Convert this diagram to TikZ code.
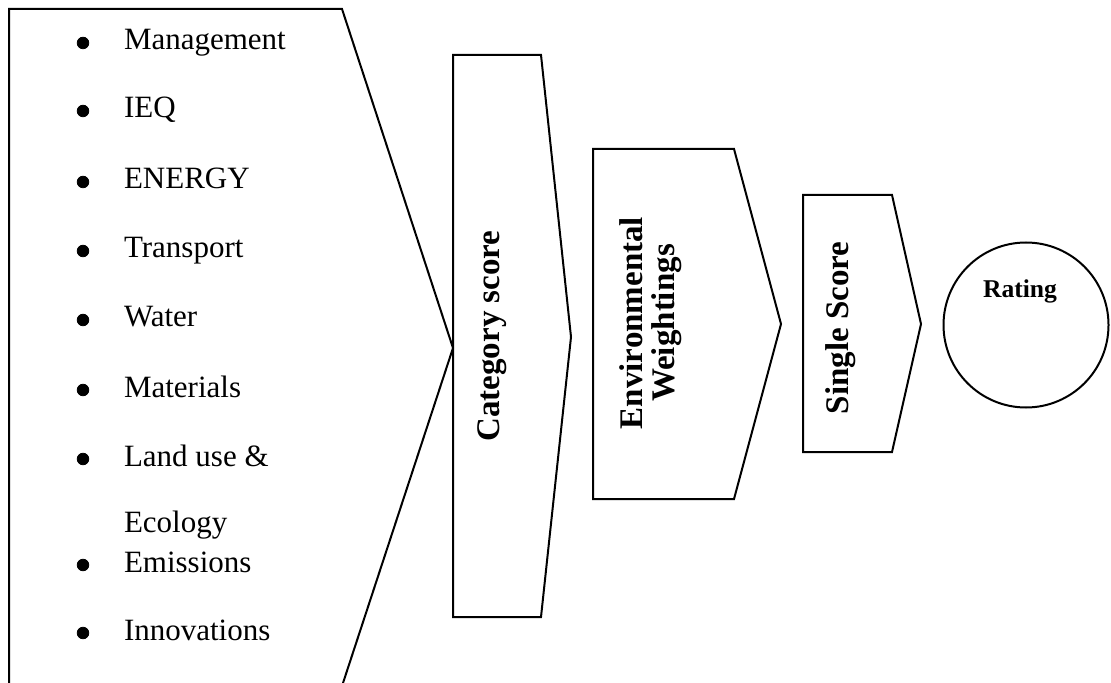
\documentclass[tikz,border=0pt]{standalone}
\usepackage{fontspec}
\setmainfont{Liberation Serif}
\begin{document}
\begin{tikzpicture}[x=0.5pt,y=-0.5pt,line width=1pt,
		item/.style={anchor=base west,inner sep=0pt,font=\fontsize{15.5}{18}\selectfont},
		dot/.style={circle,fill,draw,line width=0.4pt,inner sep=0pt,minimum size=5.8pt},
		stage/.style={rotate=90,align=center,inner sep=0pt,font=\fontsize{16.5}{16}\selectfont\bfseries}]
		\useasboundingbox (0,0) rectangle (1111,683);
		% criteria box
		\draw (9,683) -- (9,9) -- (342,9) -- (453,348) -- (343,683);
		\node[dot] (b1) at (83,43) {};
		\node[item] (mgmt) at (123,50) {Management};
		\node[dot] (b2) at (83,111) {};
		\node[item] (ieq) at (123,118) {IEQ};
		\node[dot] (b3) at (83,182) {};
		\node[item] (energy) at (123,189) {ENERGY};
		\node[dot] (b4) at (83,251) {};
		\node[item] (transport) at (123,258) {Transport};
		\node[dot] (b5) at (83,320) {};
		\node[item] (water) at (123,327) {Water};
		\node[dot] (b6) at (83,390) {};
		\node[item] (materials) at (123,397) {Materials};
		\node[dot] (b7) at (83,459) {};
		\node[item] (landuse) at (123,466) {Land use \&};
		\node[item] (ecology) at (123,532) {Ecology};
		\node[dot] (b8) at (83,565) {};
		\node[item] (emissions) at (123,572) {Emissions};
		\node[dot] (b9) at (83,633) {};
		\node[item] (innov) at (123,640) {Innovations};
		% stages
		\draw (453,55) -- (541,55) -- (571,337) -- (541,617) -- (453,617) -- cycle;
		\node[stage] (catscore) at (492,336) {Category score};
		\draw (593,149) -- (734,149) -- (781,324) -- (734,499) -- (593,499) -- cycle;
		\node[stage] (envweight) at (651,323) {Environmental\\Weightings};
		\draw (803,195) -- (892,195) -- (921,324) -- (892,452) -- (803,452) -- cycle;
		\node[stage] (single) at (841,328) {Single Score};
		% result
		\draw (1026,325) circle (41.25pt);
		\node[inner sep=0pt,font=\fontsize{12.8}{14}\selectfont\bfseries] (rating) at (1020,291) {Rating};
	\end{tikzpicture}
\end{document}
